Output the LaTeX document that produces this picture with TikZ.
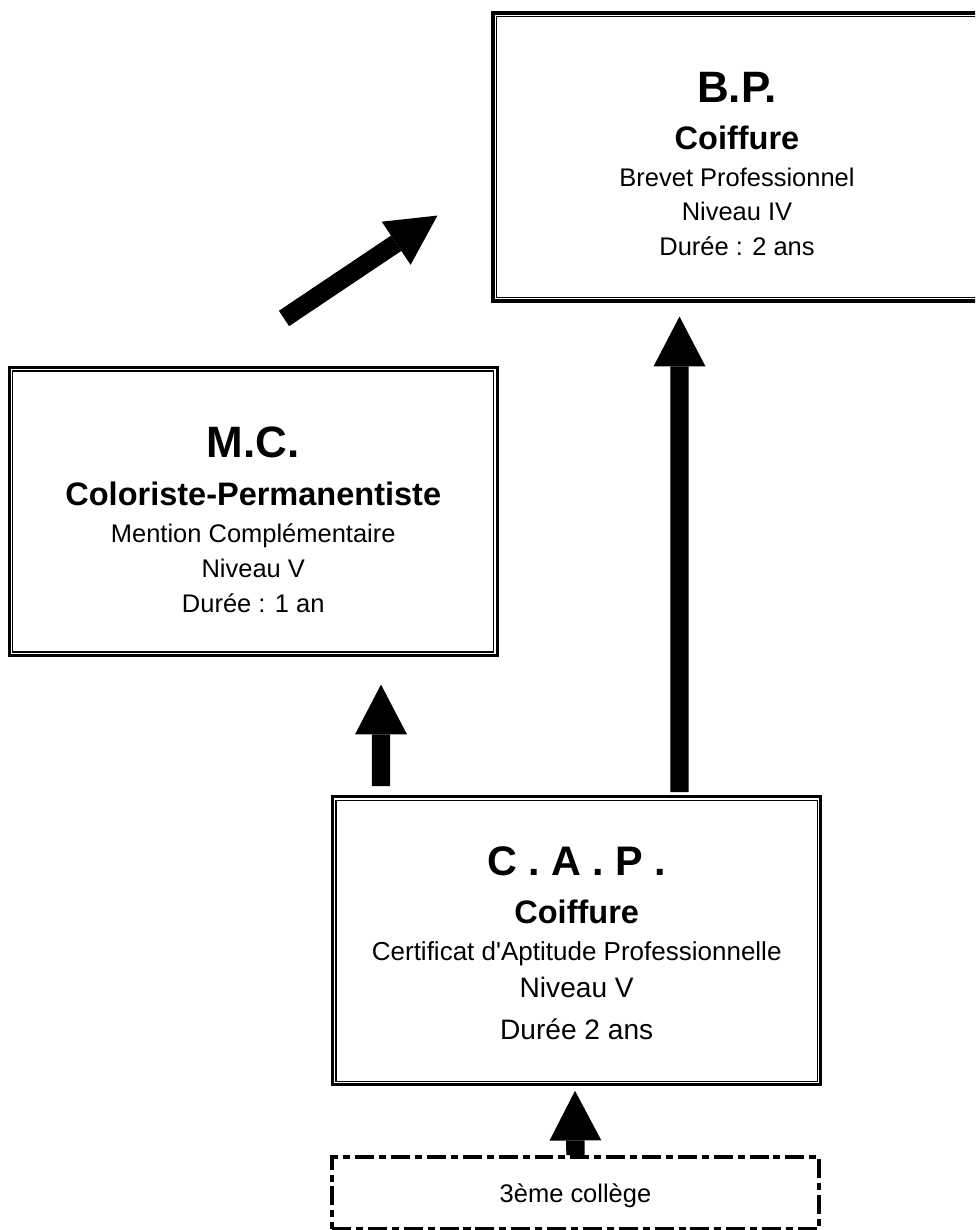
\documentclass[tikz,border=0pt]{standalone}
\usepackage{fontspec}
\setmainfont{Liberation Sans}[Ligatures=TeXOff]
\usetikzlibrary{arrows.meta}

\newcommand{\bigttl}{\fontsize{25pt}{25pt}\selectfont\bfseries}
\newcommand{\subttl}{\fontsize{18.5pt}{18.5pt}\selectfont\bfseries}

\begin{document}
\begin{tikzpicture}[
  x=0.02cm, y=-0.02cm,
  every node/.style={font=\fontsize{14.5pt}{19.8pt}\selectfont},
  dbox/.style={draw, line width=1.8pt, minimum width=9.76cm, minimum height=5.76cm, inner sep=0pt},
  inline/.style={line width=0.8pt},
  txt/.style={align=center, inner sep=0pt, anchor=north},
  colbox/.style={draw, line width=2.3pt, dash pattern=on 10.8pt off 2.8pt on 4pt off 2.8pt,
                 minimum width=9.74cm, minimum height=1.44cm, inner sep=0pt, text depth=0pt},
  blk/.style={line width=10.5pt, -{Triangle[width=29.5pt, length=28.3pt, line width=0pt]}},
]

%% ── Page frame ───────────────────────────────────────────────────────────
\clip (0,0) rectangle (975,1230);

%% ── Boxes (thick outer line, thin inner line) ────────────────────────────
\node[dbox] (bp)  at (737,157)     {};
\node[dbox] (mc)  at (253.25,511.5) {};
\node[dbox] (cap) at (576.7,940.75) {};
\foreach \n in {bp, mc, cap} {
  \draw[inline] ([shift={(5,5)}]\n.north west) rectangle ([shift={(-5,-5)}]\n.south east);
}

%% Box texts
\node[txt] (bptxt) at ([shift={(0,60.5)}]bp.north)
  {{\bigttl B.P.}\\[7pt]
   {\subttl Coiffure}\\[1pt]
   Brevet Professionnel\\
   Niveau IV\\
   Durée : 2 ans};
\node[txt] (mctxt) at ([shift={(0,61)}]mc.north)
  {{\bigttl M.C.}\\[7pt]
   {\subttl Coloriste-Permanentiste}\\[1.5pt]
   Mention Complémentaire\\
   Niveau V\\
   Durée : 1 an};
\node[txt, font=\fontsize{14.8pt}{21.5pt}\selectfont] (captxt) at ([shift={(0,51)}]cap.north)
  {{\fontsize{23.5pt}{23.5pt}\selectfont\bfseries C . A . P .}\\[5.7pt]
   {\subttl Coiffure}\\[-0.5pt]
   Certificat d'Aptitude Professionnelle\\
   {\fontsize{16pt}{16pt}\selectfont Niveau V}\\[2.3pt]
   {\fontsize{16pt}{16pt}\selectfont Durée 2 ans}};

%% ── Entry box (dash-dotted) ──────────────────────────────────────────────
\node[colbox] (col) at (575.5,1193) {3ème collège};

%% ── Block arrows ─────────────────────────────────────────────────────────
\draw[blk] ([shift={(30.75,-47.5)}]mc.north) -- ([shift={(-54,-87)}]bp.south west);
\draw[blk] ([shift={(-195.7,-9)}]cap.north) -- ([shift={(127.75,27.5)}]mc.south);
\draw[blk] ([shift={(102.8,-3)}]cap.north)  -- ([shift={(-57.5,14)}]bp.south);
\draw[blk] (col.north) -- ([shift={(-1.7,4.5)}]cap.south);

\end{tikzpicture}
\end{document}
